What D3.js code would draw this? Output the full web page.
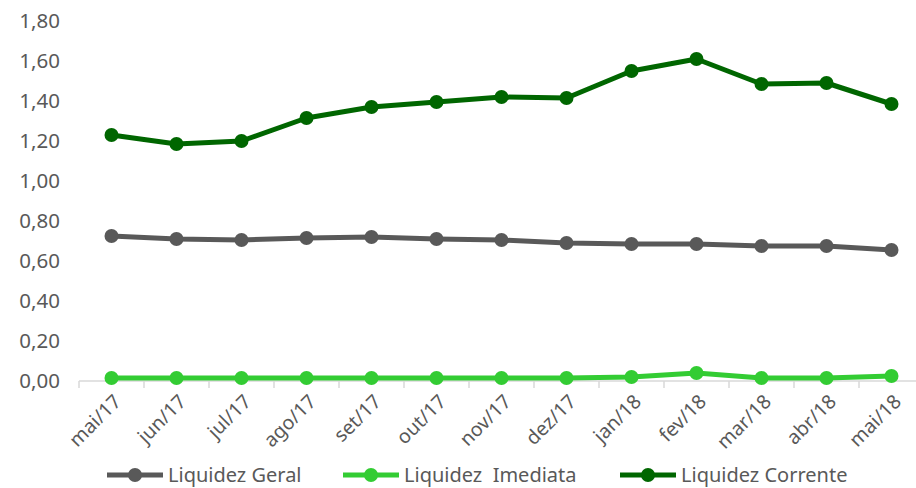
<!DOCTYPE html>
<html>
<head>
<meta charset="utf-8">
<script src="https://cdn.jsdelivr.net/npm/d3@7"></script>
<style>
	body { margin: 0; background: #fff; }
	svg { display: block; }
	.tick text { font-family: "Noto Sans", sans-serif; fill: #595959; }
</style>
</head>
<body>
<div id="plot"></div>
<script>
const FRAME_WIDTH = 916;
const FRAME_HEIGHT = 488;

// data
const months = ["mai/17", "jun/17", "jul/17", "ago/17", "set/17", "out/17", "nov/17",
	"dez/17", "jan/18", "fev/18", "mar/18", "abr/18", "mai/18"];
const liqGeral = [0.725, 0.71, 0.705, 0.715, 0.72, 0.71, 0.705, 0.69, 0.685, 0.685, 0.675, 0.675, 0.655];
const liqImediata = [0.015, 0.015, 0.015, 0.015, 0.015, 0.015, 0.015, 0.015, 0.02, 0.04, 0.015, 0.015, 0.025];
const liqCorrente = [1.23, 1.185, 1.20, 1.315, 1.37, 1.395, 1.42, 1.415, 1.55, 1.61, 1.485, 1.49, 1.385];
const yTicks = [0, 0.2, 0.4, 0.6, 0.8, 1.0, 1.2, 1.4, 1.6, 1.8];

const series = [
	{ name: "Liquidez Geral", values: liqGeral, color: "#595959" },
	{ name: "Liquidez  Imediata", values: liqImediata, color: "#33cc33" },
	{ name: "Liquidez Corrente", values: liqCorrente, color: "#006600" }
];

const FRAME1 = d3.select("#plot")
	.append("svg")
		.attr("width", FRAME_WIDTH)
		.attr("height", FRAME_HEIGHT);

// scales
const X_SCALE = d3.scaleBand()
	.domain(months)
	.range([79, 79 + 65 * months.length]);

const Y_SCALE = d3.scaleLinear()
	.domain([0, 1.8])
	.range([381, 21]);

const fmt = d => d3.format(".2f")(d).replace(".", ",");

// y-axis (labels only)
const yAxis = FRAME1.append("g")
	.attr("transform", "translate(60,0)")
	.call(d3.axisLeft(Y_SCALE).tickValues(yTicks).tickFormat(fmt).tickSize(0).tickPadding(0));
yAxis.select(".domain").remove();
yAxis.selectAll("text").attr("font-size", 20.5);

// x-axis with ticks between categories
const xAxis = FRAME1.append("g")
	.attr("transform", "translate(0,381)");
xAxis.append("line")
	.attr("x1", X_SCALE.range()[0])
	.attr("x2", X_SCALE.range()[1])
	.attr("stroke", "#d9d9d9")
	.attr("stroke-width", 1.5);
xAxis.selectAll(".sep")
	.data(months)
	.enter()
	.append("line")
		.attr("x1", d => X_SCALE(d))
		.attr("x2", d => X_SCALE(d))
		.attr("y1", 0)
		.attr("y2", 7)
		.attr("stroke", "#d9d9d9")
		.attr("stroke-width", 1.5);
xAxis.selectAll(".lbl")
	.data(months)
	.enter()
	.append("text")
		.attr("transform", d => "translate(" + (X_SCALE(d) + X_SCALE.bandwidth() / 2 + 6) + ",17) rotate(-45)")
		.attr("text-anchor", "end")
		.attr("dy", "0.35em")
		.attr("font-family", "Noto Sans, sans-serif")
		.attr("font-size", 19.5)
		.attr("fill", "#595959")
		.text(d => d);

const cx = (d, i) => X_SCALE(months[i]) + X_SCALE.bandwidth() / 2;

const line = d3.line()
	.x(cx)
	.y(d => Y_SCALE(d));

// lines and points
series.forEach(s => {
	FRAME1.append("path")
		.datum(s.values)
		.attr("d", line)
		.attr("fill", "none")
		.attr("stroke", s.color)
		.attr("stroke-width", 5)
		.attr("stroke-linejoin", "round");

	FRAME1.selectAll(null)
		.data(s.values)
		.enter()
		.append("circle")
			.attr("cx", cx)
			.attr("cy", d => Y_SCALE(d))
			.attr("r", 7)
			.attr("fill", s.color);
});

// legend
const legendX = [107, 343, 620];
const legend = FRAME1.selectAll(".legend")
	.data(series)
	.enter()
	.append("g")
		.attr("transform", (d, i) => "translate(" + legendX[i] + ",475)");
legend.append("line")
	.attr("x1", 0)
	.attr("x2", 56)
	.attr("stroke", d => d.color)
	.attr("stroke-width", 5);
legend.append("circle")
	.attr("cx", 28)
	.attr("r", 7)
	.attr("fill", d => d.color);
legend.append("text")
	.attr("x", 61)
	.attr("dy", "0.33em")
	.attr("font-family", "Noto Sans, sans-serif")
	.attr("font-size", 20)
	.attr("fill", "#595959")
	.style("white-space", "pre")
	.text(d => d.name);
</script>
</body>
</html>
